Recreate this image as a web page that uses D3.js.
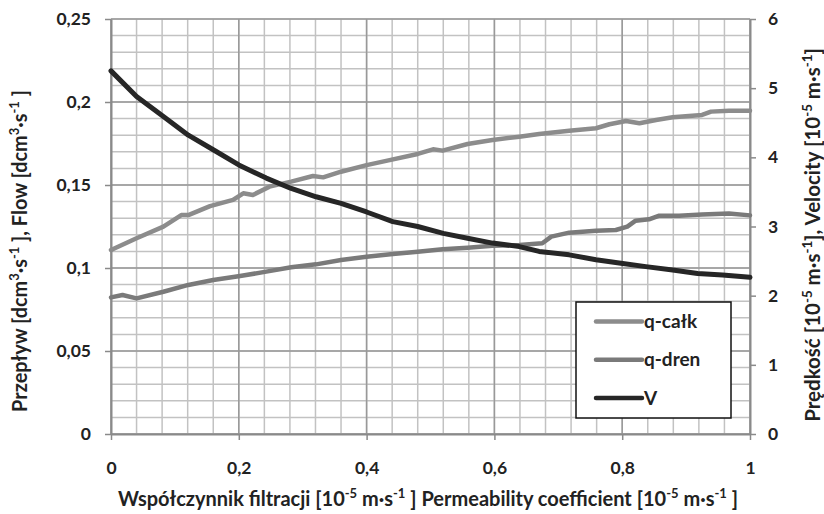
<!DOCTYPE html>
<html>
<head>
<meta charset="utf-8">
<script src="https://cdn.jsdelivr.net/npm/d3@7"></script>
<style>
  html, body { margin: 0; padding: 0; background: #fff; }
  svg { display: block; }
  text { font-family: Lato, "Open Sans", sans-serif; font-weight: bold; fill: #222; }
</style>
</head>
<body>
<svg id="chart" width="824" height="514"></svg>
<script>
// ---- data ----
const kCalk = [0, 0.040, 0.082, 0.110, 0.121, 0.155, 0.191, 0.207, 0.222, 0.248, 0.282, 0.316, 0.332, 0.360, 0.400, 0.436, 0.480, 0.504, 0.519, 0.558, 0.597, 0.639, 0.670, 0.717, 0.759, 0.780, 0.806, 0.827, 0.853, 0.879, 0.925, 0.939, 0.967, 1.0];
const qCalk = [0.1108, 0.1179, 0.1249, 0.1319, 0.1319, 0.1373, 0.1410, 0.1450, 0.1440, 0.1490, 0.1520, 0.1554, 0.1546, 0.1580, 0.1620, 0.1650, 0.1687, 0.1715, 0.1707, 0.1747, 0.1771, 0.1791, 0.1807, 0.1827, 0.1842, 0.1866, 0.1886, 0.1872, 0.1892, 0.1908, 0.1922, 0.1942, 0.1948, 0.1948];

const kDren = [0, 0.018, 0.040, 0.082, 0.121, 0.160, 0.202, 0.243, 0.282, 0.321, 0.360, 0.400, 0.441, 0.480, 0.519, 0.558, 0.597, 0.639, 0.675, 0.689, 0.717, 0.759, 0.790, 0.808, 0.821, 0.842, 0.858, 0.889, 0.925, 0.967, 1.0];
const qDren = [0.0823, 0.0837, 0.0817, 0.0857, 0.0898, 0.0928, 0.0952, 0.0978, 0.1004, 0.1022, 0.1048, 0.1068, 0.1084, 0.1098, 0.1113, 0.1122, 0.1134, 0.1139, 0.1149, 0.1189, 0.1213, 0.1225, 0.1229, 0.1249, 0.1285, 0.1293, 0.1315, 0.1315, 0.1323, 0.1329, 0.1317];

const kV = [0, 0.040, 0.082, 0.121, 0.160, 0.200, 0.243, 0.282, 0.321, 0.360, 0.400, 0.441, 0.480, 0.520, 0.558, 0.597, 0.639, 0.670, 0.717, 0.759, 0.798, 0.837, 0.879, 0.918, 0.957, 1.0];
const vVals = [5.25, 4.88, 4.59, 4.32, 4.11, 3.89, 3.70, 3.55, 3.43, 3.335, 3.21, 3.07, 3.00, 2.90, 2.83, 2.76, 2.71, 2.64, 2.59, 2.52, 2.47, 2.42, 2.37, 2.32, 2.30, 2.265];

const xTicks = [0, 0.2, 0.4, 0.6, 0.8, 1];
const yLeftTicks = [0, 0.05, 0.1, 0.15, 0.2, 0.25];
const yRightTicks = [0, 1, 2, 3, 4, 5, 6];
const seriesNames = ["q-całk", "q-dren", "V"];
const seriesColors = ["#8c8c8c", "#7a7a7a", "#262626"];

// ---- layout ----
const svg = d3.select("#chart");
const x = d3.scaleLinear().domain([0, 1]).range([111, 750]);
const yL = d3.scaleLinear().domain([0, 0.25]).range([434, 19]);
const yR = d3.scaleLinear().domain([0, 6]).range([434, 19]);
const fmt = d => String(+d.toFixed(2)).replace(".", ",");

// grid
const g = svg.append("g");
const vMinor = d3.range(0, 26).map(i => i * 0.04);
const hMinor = d3.range(0, 26).map(i => i * 0.01);
g.selectAll(".vmin").data(vMinor).enter().append("line")
  .attr("x1", d => x(d)).attr("x2", d => x(d)).attr("y1", yL(0)).attr("y2", yL(0.25))
  .attr("stroke", "#c2c2c2").attr("stroke-width", 1.5);
g.selectAll(".hmin").data(hMinor).enter().append("line")
  .attr("x1", x(0)).attr("x2", x(1)).attr("y1", d => yL(d)).attr("y2", d => yL(d))
  .attr("stroke", "#c2c2c2").attr("stroke-width", 1.5);
g.selectAll(".vmaj").data(xTicks).enter().append("line")
  .attr("x1", d => x(d)).attr("x2", d => x(d)).attr("y1", yL(0)).attr("y2", yL(0.25))
  .attr("stroke", "#999").attr("stroke-width", 1.5);
g.selectAll(".hmaj").data(yLeftTicks).enter().append("line")
  .attr("x1", x(0)).attr("x2", x(1)).attr("y1", d => yL(d)).attr("y2", d => yL(d))
  .attr("stroke", "#999").attr("stroke-width", 1.5);

// axes
function styleAxis(sel) {
  sel.select(".domain").attr("stroke", "#8a8a8a").attr("stroke-width", 2);
  sel.selectAll(".tick line").attr("stroke", "#8a8a8a").attr("stroke-width", 1.5);
  sel.selectAll(".tick text").attr("font-family", "Lato, sans-serif").attr("font-weight", "bold")
    .attr("font-size", 17.5).attr("fill", "#222");
}
svg.append("g").attr("transform", `translate(${x(0)},0)`)
  .call(d3.axisLeft(yL).tickValues(yLeftTicks).tickFormat(fmt).tickSize(6).tickSizeOuter(0).tickPadding(14))
  .call(styleAxis);
svg.append("g").attr("transform", `translate(0,${yL(0)})`)
  .call(d3.axisBottom(x).tickValues(xTicks).tickFormat(fmt).tickSize(6).tickSizeOuter(0).tickPadding(22))
  .call(styleAxis);
svg.append("g").attr("transform", `translate(${x(1)},0)`)
  .call(d3.axisRight(yR).tickValues(yRightTicks).tickFormat(d => d).tickSize(6).tickSizeOuter(0).tickPadding(12))
  .call(styleAxis);

// lines
const lineL = d3.line().x(d => x(d[0])).y(d => yL(d[1]));
const lineR = d3.line().x(d => x(d[0])).y(d => yR(d[1]));
const dataCalk = kCalk.map((k, i) => [k, qCalk[i]]);
const dataDren = kDren.map((k, i) => [k, qDren[i]]);
const dataV = kV.map((k, i) => [k, vVals[i]]);
svg.append("path").datum(dataCalk).attr("d", lineL).attr("fill", "none")
  .attr("stroke", seriesColors[0]).attr("stroke-width", 4.5).attr("stroke-linejoin", "round").attr("stroke-linecap", "round");
svg.append("path").datum(dataDren).attr("d", lineL).attr("fill", "none")
  .attr("stroke", seriesColors[1]).attr("stroke-width", 4.5).attr("stroke-linejoin", "round").attr("stroke-linecap", "round");
svg.append("path").datum(dataV).attr("d", lineR).attr("fill", "none")
  .attr("stroke", seriesColors[2]).attr("stroke-width", 5).attr("stroke-linejoin", "round").attr("stroke-linecap", "round");

// legend
const lg = svg.append("g");
lg.append("rect").attr("x", 576).attr("y", 302).attr("width", 155).attr("height", 116)
  .attr("fill", "#fff").attr("stroke", "#111").attr("stroke-width", 1.5);
seriesNames.forEach((name, i) => {
  const yy = 321.5 + i * 38.3;
  lg.append("line").attr("x1", 596).attr("x2", 642).attr("y1", yy).attr("y2", yy)
    .attr("stroke", seriesColors[i]).attr("stroke-width", 4.5).attr("stroke-linecap", "round");
  lg.append("text").attr("x", 644).attr("y", yy + 6.5).attr("font-size", 19).text(name);
});

// axis titles (font size fitted to the reference text length)
function buildTitle(transform, parts, targetLen) {
  const make = size => {
    const t = svg.append("text").attr("transform", transform).attr("text-anchor", "middle").attr("font-size", size);
    parts.forEach(p => {
      if (p.sup) {
        t.append("tspan").attr("font-size", size * 0.65).attr("dy", -size * 0.38).text(p.sup);
        t.append("tspan").attr("font-size", size).attr("dy", size * 0.38).text(p.after || "");
      } else {
        t.append("tspan").text(p.text);
      }
    });
    return t;
  };
  const t0 = make(15);
  const len = t0.node().getComputedTextLength();
  t0.remove();
  make(15 * targetLen / len);
}
buildTitle("translate(428,506)",
  [{text: "Współczynnik filtracji [10"}, {sup: "-5", after: " m·s"}, {sup: "-1", after: " ]  Permeability coefficient [10"}, {sup: "-5", after: " m·s"}, {sup: "-1", after: " ]"}], 620);
buildTitle("translate(27,251) rotate(-90)",
  [{text: "Przepływ [dcm"}, {sup: "3", after: "·s"}, {sup: "-1", after: " ], Flow [dcm"}, {sup: "3", after: "·s"}, {sup: "-1", after: " ]"}], 322);
buildTitle("translate(820,235) rotate(-90)",
  [{text: "Prędkość [10"}, {sup: "-5", after: " m·s"}, {sup: "-1", after: "],   Velocity [10"}, {sup: "-5", after: " m·s"}, {sup: "-1", after: "]"}], 374);
</script>
</body>
</html>
